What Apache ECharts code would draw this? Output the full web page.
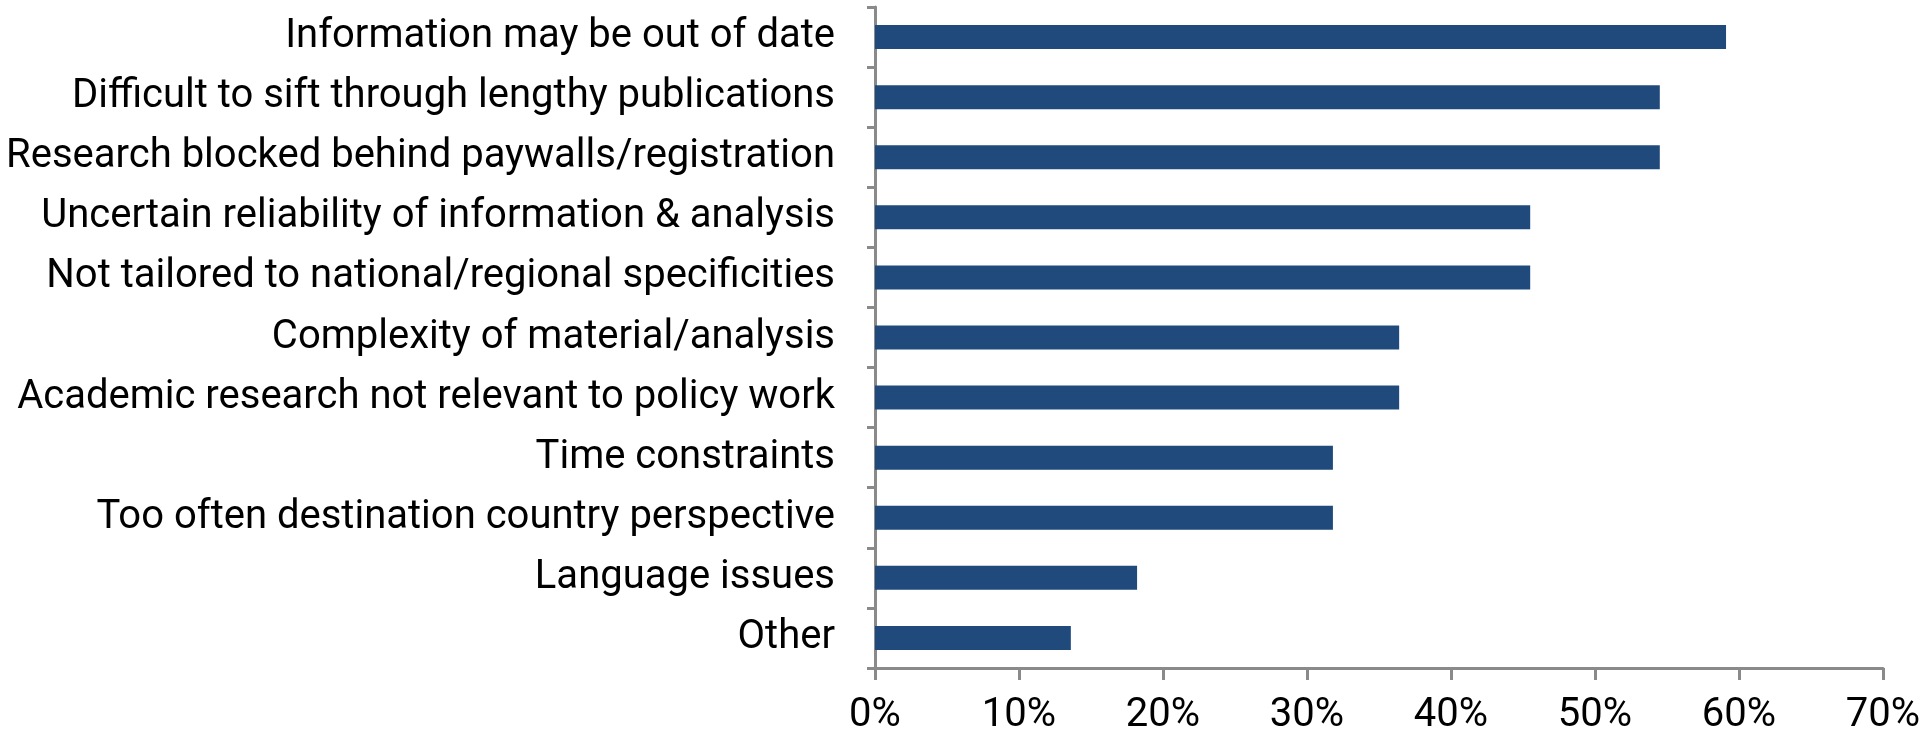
<!DOCTYPE html>
<html>
<head>
<meta charset="utf-8">
<script src="https://cdn.jsdelivr.net/npm/echarts@6/dist/echarts.min.js"></script>
<style>
html,body{margin:0;padding:0;background:#fff;}
#chart{width:1929px;height:741px;}
</style>
</head>
<body>
<div id="chart"></div>
<script>
const categories = [
  "Information may be out of date",
  "Difficult to sift through lengthy publications",
  "Research blocked behind paywalls/registration",
  "Uncertain reliability of information & analysis",
  "Not tailored to national/regional specificities",
  "Complexity of material/analysis",
  "Academic research not relevant to policy work",
  "Time constraints",
  "Too often destination country perspective",
  "Language issues",
  "Other"
];
const values = [59.1, 54.5, 54.5, 45.5, 45.5, 36.4, 36.4, 31.8, 31.8, 18.2, 13.6];
const xTicks = [0, 10, 20, 30, 40, 50, 60, 70];

const chart = echarts.init(document.getElementById('chart'), null, {renderer: 'canvas'});
chart.setOption({
  animation: false,
  backgroundColor: '#ffffff',
  grid: {left: 875, right: 46, top: 7, bottom: 73, containLabel: false},
  xAxis: {
    type: 'value',
    min: xTicks[0],
    max: xTicks[xTicks.length - 1],
    interval: 10,
    axisLine: {show: true, lineStyle: {color: '#8a8a8a', width: 3}},
    axisTick: {show: true, length: 12, lineStyle: {color: '#8a8a8a', width: 3}},
    splitLine: {show: false},
    axisLabel: {
      margin: 28,
      color: '#000',
      fontFamily: 'Roboto',
      fontSize: 40,
      formatter: v => v + '%'
    }
  },
  yAxis: {
    type: 'category',
    data: categories,
    inverse: true,
    axisLine: {show: true, lineStyle: {color: '#8a8a8a', width: 3}},
    axisTick: {show: true, length: 8, lineStyle: {color: '#8a8a8a', width: 3}},
    axisLabel: {
      margin: 40,
      color: '#000',
      fontFamily: 'Roboto',
      fontSize: 40
    }
  },
  series: [{
    type: 'bar',
    data: values,
    barWidth: 24,
    itemStyle: {color: '#214a7c'}
  }]
});
</script>
</body>
</html>
